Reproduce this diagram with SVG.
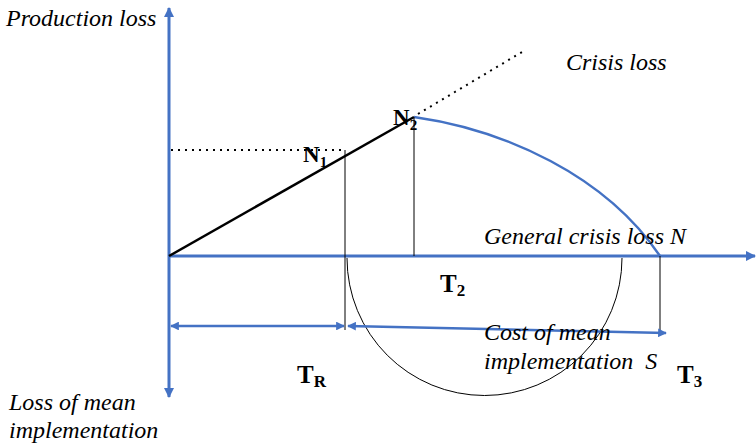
<svg xmlns="http://www.w3.org/2000/svg" width="756" height="443" viewBox="0 0 756 443">
<style>
.it{font-family:"Liberation Serif","Times New Roman",serif;font-style:italic;font-size:24px;fill:#000}
.bd{font-family:"Liberation Serif","Times New Roman",serif;font-weight:bold;font-size:23px;fill:#000}
.tb{font-size:25px}
.sub{font-size:15px}
.sub2{font-size:17px}
.ax{stroke:#4472C4;stroke-width:3;fill:none}
.bl{stroke:#4472C4;stroke-width:2.5;fill:none}
.thin{stroke:#000;stroke-width:1;fill:none}
.dot{stroke:#000;stroke-width:2;stroke-dasharray:2 5;fill:none}
</style>
<defs>
<marker id="ah" viewBox="0 0 10 10" refX="9" refY="5" markerWidth="3.5" markerHeight="3.5" orient="auto-start-reverse" markerUnits="strokeWidth">
<path d="M0,0 L10,5 L0,10 Z" fill="#4472C4"/>
</marker>
</defs>
<rect width="756" height="443" fill="#fff"/>
<g id="connectors">
<line id="y-axis" class="ax" x1="169" y1="397" x2="169" y2="8" marker-start="url(#ah)" marker-end="url(#ah)"/>
<line id="x-axis" class="ax" x1="169" y1="256" x2="755" y2="256" marker-end="url(#ah)"/>
<line id="crisis-rise" stroke="#000" stroke-width="2.5" x1="169" y1="256" x2="414" y2="117"/>
<line class="dot" x1="171" y1="150" x2="345" y2="150"/>
<line class="dot" x1="418" y1="114" x2="522" y2="52"/>
<path id="decline" class="bl" d="M414,117 C505,130 605,175 660,256"/>
<line class="thin" x1="345" y1="150" x2="345" y2="330"/>
<line class="thin" x1="414" y1="117" x2="414" y2="256"/>
<line class="thin" x1="660" y1="256" x2="660" y2="333"/>
<path id="cost-arc" class="thin" d="M347,258 A137.5,137.5 0 0 0 622,258"/>
<line id="TR-arrow" class="bl" x1="171" y1="326" x2="344" y2="326" marker-start="url(#ah)" marker-end="url(#ah)"/>
<line id="S-arrow" class="bl" x1="348" y1="326" x2="666" y2="333" marker-start="url(#ah)" marker-end="url(#ah)"/>
</g>
<g id="labels">
<text class="it" x="6" y="26">Production loss</text>
<text class="it" x="566" y="70">Crisis loss</text>
<text class="it" x="484" y="244">General crisis loss N</text>
<text class="it" x="484" y="340">Cost of mean</text>
<text class="it" x="484" y="369" xml:space="preserve">implementation  S</text>
<text class="it" x="9" y="410">Loss of mean</text>
<text class="it" x="9" y="438">implementation</text>
</g>
<g id="N1"><text class="bd" x="303" y="162">N<tspan class="sub" dy="5">1</tspan></text></g>
<g id="N2"><text class="bd" x="393" y="125">N<tspan class="sub" dy="5">2</tspan></text></g>
<g id="T2"><text class="bd tb" x="440" y="292">T<tspan class="sub2" dy="4">2</tspan></text></g>
<g id="TR"><text class="bd tb" x="297" y="383">T<tspan class="sub2" dy="4">R</tspan></text></g>
<g id="T3"><text class="bd tb" x="677" y="383">T<tspan class="sub2" dy="4">3</tspan></text></g>
</svg>
